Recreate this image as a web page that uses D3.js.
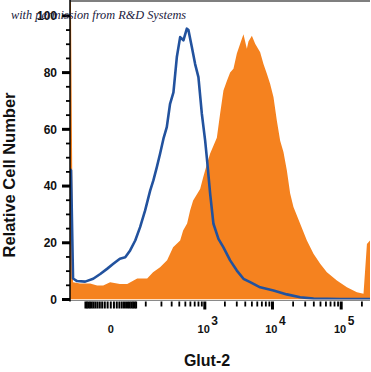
<!DOCTYPE html>
<html>
<head>
<meta charset="utf-8">
<script src="https://cdn.jsdelivr.net/npm/d3@7"></script>
<style>
  body { margin: 0; background: #fff; }
</style>
</head>
<body>
<div id="chart"></div>
<script>
// Stained sample (orange filled histogram)
const orangeX = [-131, -126, -114, -81, -45, -26, -13, -1, 16, 33, 64, 107, 140, 189, 251, 317, 413, 461, 533, 594,
  662, 849, 943, 1085, 1204, 1518, 1700, 1904, 2138, 2393, 2678, 3006, 3364, 3762, 4220, 4455, 5000, 5585, 6610, 7390,
  8285, 9257, 10340, 11590, 12950, 14460, 16210, 18110, 20230, 25330, 31720, 39580, 49520, 61970, 86580, 121000,
  169150, 211000, 236500, 262144];
const orangeY = [110, 110, 6.1, 5.6, 5.6, 4.9, 4.9, 6.1, 5.5, 5.5, 7.4, 7.4, 9.6, 11.4, 13.8, 18.4, 20.8, 24.3, 26.8, 31.4,
  34.9, 39, 43, 48, 51.5, 57, 65.6, 73.7, 77, 80, 81.4, 86.7, 90.2, 93.5, 88.4, 91, 93, 90.2, 87.2, 83,
  79.6, 76, 71.4, 63, 56, 52, 45.5, 37.4, 32.6, 26.7, 20.8, 16.1, 12.6, 9.6, 6.7, 4.3,
  2.6, 2, 19.6, 20.8];

// Isotype control (blue outline)
const blueX = [-131, -125, -114, -94, -61, -36, -19, -6, 4, 16, 28, 41, 57, 75, 97, 123, 142, 165, 189, 217,
  248, 282, 321, 365, 413, 466, 528, 559, 632, 711, 799, 901, 1012, 1073, 1204, 1350, 1604, 1904, 2393, 3006,
  3762, 4716, 6610, 10340, 16210, 25330, 39580, 96800, 262144];
const blueY = [46, 45.5, 7.4, 6.5, 6.3, 7.3, 9, 10.8, 12.6, 14.4, 14.9, 17.3, 20.8, 25.5, 31.4, 38.4, 42, 46.7, 51.4, 56.7,
  60.8, 69, 73, 85.5, 92.5, 91.4, 95.5, 95, 89, 83, 78.4, 65.5, 56, 50, 37.3, 26.7, 21.4, 18.4, 13.8, 10.2,
  7.3, 6.1, 4.3, 3.2, 1.8, 0.8, 0.3, 0.2, 0.2];

const yTicks = [0, 20, 40, 60, 80, 100];
const xLabelTicks = [0, 1000, 10000, 100000];
const xLabelExps = [null, 3, 4, 5];

const width = 371, height = 372;
const plot = { left: 70, right: 370, top: 1.7, bottom: 299.5 };

const orangeColor = "#f5821f";
const blueColor = "#22529e";
const labelFont = "'Liberation Sans', Arial, sans-serif";

const svg = d3.select("#chart").append("svg")
  .attr("width", width)
  .attr("height", height);

// biexponential-like x axis
const x = d3.scaleSymlog()
  .constant(45)
  .domain([-131, 262144])
  .range([plot.left, plot.right]);

const y = d3.scaleLinear()
  .domain([0, 105])
  .range([plot.bottom, plot.top]);

svg.append("clipPath").attr("id", "plotclip")
  .append("rect")
  .attr("x", plot.left)
  .attr("y", plot.top)
  .attr("width", plot.right - plot.left)
  .attr("height", plot.bottom - plot.top);

const gPlot = svg.append("g").attr("clip-path", "url(#plotclip)");

const orangeData = orangeX.map((v, i) => ({ x: v, y: orangeY[i] }));
const blueData = blueX.map((v, i) => ({ x: v, y: blueY[i] }));

gPlot.append("path")
  .datum(orangeData)
  .attr("fill", orangeColor)
  .attr("d", d3.area().x(d => x(d.x)).y0(y(0)).y1(d => y(d.y)));

gPlot.append("path")
  .datum(blueData)
  .attr("fill", "none")
  .attr("stroke", blueColor)
  .attr("stroke-width", 2.6)
  .attr("stroke-linejoin", "round")
  .attr("d", d3.line().x(d => x(d.x)).y(d => y(d.y)));

// frame
svg.append("line")
  .attr("x1", plot.left).attr("x2", plot.right)
  .attr("y1", 1).attr("y2", 1)
  .attr("stroke", "#000").attr("stroke-width", 1.2);
svg.append("line")
  .attr("x1", plot.left).attr("x2", plot.right)
  .attr("y1", plot.bottom + 1).attr("y2", plot.bottom + 1)
  .attr("stroke", "#8a8a8a").attr("stroke-width", 1);
svg.append("line")
  .attr("x1", plot.left).attr("x2", plot.left)
  .attr("y1", 0).attr("y2", plot.bottom + 2)
  .attr("stroke", "#000").attr("stroke-width", 1.5);

// y ticks: major every 20, minor every 5
d3.range(0, 101, 5).forEach(v => {
  const major = v % 20 === 0;
  svg.append("line")
    .attr("x1", major ? plot.left - 8 : plot.left - 4)
    .attr("x2", plot.left)
    .attr("y1", y(v)).attr("y2", y(v))
    .attr("stroke", "#000")
    .attr("stroke-width", major ? 3 : 1.8);
});

yTicks.forEach(v => {
  svg.append("text")
    .attr("x", 57)
    .attr("y", y(v))
    .attr("dy", "0.36em")
    .attr("text-anchor", "end")
    .attr("font-family", labelFont)
    .attr("font-weight", "bold")
    .attr("font-size", "12px")
    .attr("fill", "#111")
    .text(v);
});

// x ticks
const denseTicks = d3.range(-60, 61, 5);
const logMinor = [];
[100, 1000, 10000, 100000].forEach(dec => {
  for (let k = 1; k <= 9; k++) {
    const v = dec * k;
    if (v !== 1000 && v !== 10000 && v !== 100000 && v <= 200000) logMinor.push(v);
  }
});
denseTicks.forEach(v => {
  svg.append("line")
    .attr("x1", x(v)).attr("x2", x(v))
    .attr("y1", plot.bottom + 2).attr("y2", plot.bottom + 9)
    .attr("stroke", "#000").attr("stroke-width", 2);
});
logMinor.forEach(v => {
  svg.append("line")
    .attr("x1", x(v)).attr("x2", x(v))
    .attr("y1", plot.bottom + 2).attr("y2", plot.bottom + 7)
    .attr("stroke", "#000").attr("stroke-width", 1.8);
});
xLabelTicks.slice(1).forEach(v => {
  svg.append("line")
    .attr("x1", x(v)).attr("x2", x(v))
    .attr("y1", plot.bottom + 2).attr("y2", plot.bottom + 10)
    .attr("stroke", "#000").attr("stroke-width", 3);
});

xLabelTicks.forEach((v, i) => {
  const t = svg.append("text")
    .attr("x", x(v) + (xLabelExps[i] === null ? 0 : 3))
    .attr("y", 333)
    .attr("text-anchor", "middle")
    .attr("font-family", labelFont)
    .attr("font-weight", "bold")
    .attr("font-size", "11px")
    .attr("fill", "#111");
  if (xLabelExps[i] === null) {
    t.text("0");
  } else {
    t.append("tspan").text("10");
    t.append("tspan")
      .attr("dy", "-8")
      .attr("dx", "1.5")
      .attr("font-size", "12px")
      .text(xLabelExps[i]);
  }
});

// axis titles
svg.append("text")
  .attr("x", 207)
  .attr("y", 366)
  .attr("text-anchor", "middle")
  .attr("font-family", labelFont)
  .attr("font-weight", "bold")
  .attr("font-size", "16px")
  .attr("fill", "#111")
  .text("Glut-2");

svg.append("text")
  .attr("transform", "translate(15,175) rotate(-90)")
  .attr("text-anchor", "middle")
  .attr("font-family", labelFont)
  .attr("font-weight", "bold")
  .attr("font-size", "16.5px")
  .attr("fill", "#111")
  .text("Relative Cell Number");

// watermark (drawn over the top tick label, as in the source image)
svg.append("text")
  .attr("x", 11)
  .attr("y", 19)
  .attr("font-family", "'Liberation Serif', 'DejaVu Serif', serif")
  .attr("font-style", "italic")
  .attr("font-size", "12.3px")
  .attr("fill", "#1a1a40")
  .text("with permission from R&D Systems");
</script>
</body>
</html>
